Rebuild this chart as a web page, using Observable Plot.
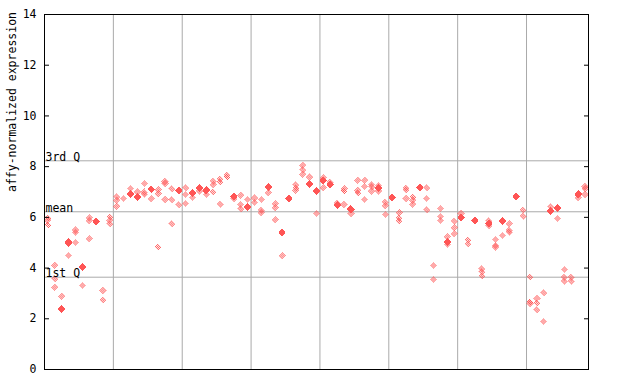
<!DOCTYPE html>
<html><head><meta charset="utf-8">
<script src="https://cdn.jsdelivr.net/npm/d3@7"></script>
<script src="https://cdn.jsdelivr.net/npm/@observablehq/plot@0.6"></script>
<style>html,body{margin:0;padding:0;background:#fff} svg{display:block}</style>
</head><body><div id="chart"></div>
<script>
// samples per group (grid separators between groups)
const groupSizes = [10, 10, 10, 10, 10, 10, 10, 9];
// expression values of each sample (replicates)
const expression = [
  [5.98, 5.88, 5.7], [4.11, 3.58, 3.24], [2.89, 2.39, 2.37], [5.03, 4.99, 4.96, 4.49], [5.5, 5.4, 5.0],
  [4.06, 4.02, 3.32], [5.99, 5.87, 5.16], [5.85, 5.83], [3.12, 2.73], [6.01, 5.88, 5.75],
  [6.82, 6.67, 6.44], [6.74], [7.13, 6.95, 6.92], [7.0, 6.82, 6.80], [7.33, 7.0, 6.92],
  [7.12, 7.10, 6.74], [7.09, 6.93, 4.83], [7.42, 7.33, 6.7], [7.13, 6.7, 5.75], [7.07, 7.05, 6.5],
  [7.17, 6.9, 6.54], [6.96, 6.93, 6.78], [7.16, 7.14, 7.04], [7.08, 7.05, 6.9], [7.42, 7.29, 7.0],
  [7.52, 7.39, 6.51], [7.68, 7.59], [6.84, 6.82, 6.74], [6.87, 6.51, 6.34], [6.7, 6.42, 6.40],
  [6.76, 6.58], [6.7, 6.28, 6.18], [7.2, 7.18, 6.97], [6.54, 6.38, 5.91], [5.42, 5.39, 4.49],
  [6.75, 6.73], [7.29, 7.16, 7.07], [8.05, 7.88, 7.7], [7.59, 7.34, 7.31], [7.07, 7.04, 6.15],
  [7.56, 7.47, 7.44, 7.16], [7.39, 7.31, 7.28], [6.55, 6.50, 6.47], [7.13, 7.04, 6.51], [6.34, 6.31, 6.15],
  [7.46, 7.07, 6.96], [7.46, 7.22, 6.7], [7.29, 7.2, 7.04], [7.26, 7.18, 7.15, 7.04], [6.6, 6.45, 6.11],
  [6.79, 6.76], [6.18, 5.97, 5.86], [7.17, 7.09, 6.74], [6.8, 6.67, 6.51], [7.19, 7.16],
  [7.17, 6.74, 6.3], [4.1, 3.55], [6.34, 6.04, 5.88], [5.23, 5.04, 5.01, 4.93], [5.84, 5.59, 5.36],
  [6.15, 6.02, 5.99], [5.1, 4.96], [5.9, 5.87], [3.98, 3.85, 3.69], [5.86, 5.77, 5.74, 5.67],
  [5.12, 4.9, 4.83], [5.86, 5.83, 5.29], [5.75, 5.49, 5.42], [6.84, 6.81], [6.28, 6.04],
  [3.64, 2.66, 2.6], [2.8, 2.62, 2.36], [3.03, 1.89], [6.41, 6.26, 6.23], [6.37, 6.34, 5.95],
  [3.95, 3.64, 3.48], [3.64, 3.48], [6.93, 6.9, 6.78], [7.22, 7.13, 6.9]
];
const statLabels = ["3rd Q", "mean", "1st Q"];
const statValues = [8.23, 6.22, 3.64];
const yTicks = [0, 2, 4, 6, 8, 10, 12, 14];
const yLabel = "affy-normalized expression";

const nSamples = expression.length;
const points = expression.flatMap((vals, i) => vals.map((v, k) => ({
  x: i + 0.5, v,
  solid: vals.some((w, j) => j !== k && Math.abs(w - v) < 0.045)
})));
const boundaries = d3.cumsum(groupSizes).slice(0, -1);
const stats = statLabels.map((label, i) => ({label, v: statValues[i]}));

const red = "#ff5555";
const font = "DejaVu Sans Mono";

const chart = Plot.plot({
  width: 640, height: 384,
  marginLeft: 44, marginRight: 52, marginTop: 14, marginBottom: 15,
  x: {domain: [0, nSamples], axis: null},
  y: {domain: [0, 14], axis: null},
  style: {fontFamily: font, fontSize: "11.5px", background: "white", color: "black"},
  marks: [
    Plot.ruleX(boundaries, {stroke: "#aaaaaa", strokeWidth: 1}),
    Plot.ruleY(statValues, {stroke: "#aaaaaa", strokeWidth: 1}),
    Plot.dot(points.filter(d => !d.solid), {x: "x", y: "v", symbol: "diamond2", r: 3.3, fill: "url(#chk)", stroke: "none", shapeRendering: "crispEdges"}),
    Plot.dot(points.filter(d => d.solid), {x: "x", y: "v", symbol: "diamond2", r: 3.3, fill: red, stroke: "none", shapeRendering: "crispEdges"}),
    Plot.axisY({ticks: yTicks, tickSize: 0, tickPadding: 8, label: null, fontSize: 11.5}),
    Plot.axisY({ticks: yTicks, tickSize: 5, dx: 5, tickFormat: () => "", label: null}),
    Plot.axisY({ticks: yTicks, anchor: "right", tickSize: 5, dx: -5, tickFormat: () => "", label: null}),
    Plot.text(stats, {frameAnchor: "left", y: "v", text: "label", textAnchor: "start", lineAnchor: "bottom", dx: 1, dy: 0, fill: "black"}),
    Plot.text([yLabel], {frameAnchor: "left", text: d => d, rotate: -90, dx: -32, fill: "black"}),
    Plot.frame({stroke: "black", strokeWidth: 1})
  ]
});

const ns = "http://www.w3.org/2000/svg";
const defs = document.createElementNS(ns, "defs");
const pat = document.createElementNS(ns, "pattern");
pat.setAttribute("id", "chk");
pat.setAttribute("patternUnits", "userSpaceOnUse");
pat.setAttribute("width", "2");
pat.setAttribute("height", "2");
for (const [px, py] of [[0, 0], [1, 1]]) {
  const r = document.createElementNS(ns, "rect");
  r.setAttribute("x", px); r.setAttribute("y", py);
  r.setAttribute("width", 1); r.setAttribute("height", 1);
  r.setAttribute("fill", red);
  pat.appendChild(r);
}
defs.appendChild(pat);
chart.insertBefore(defs, chart.firstChild);
document.getElementById("chart").appendChild(chart);
</script>
</body></html>
